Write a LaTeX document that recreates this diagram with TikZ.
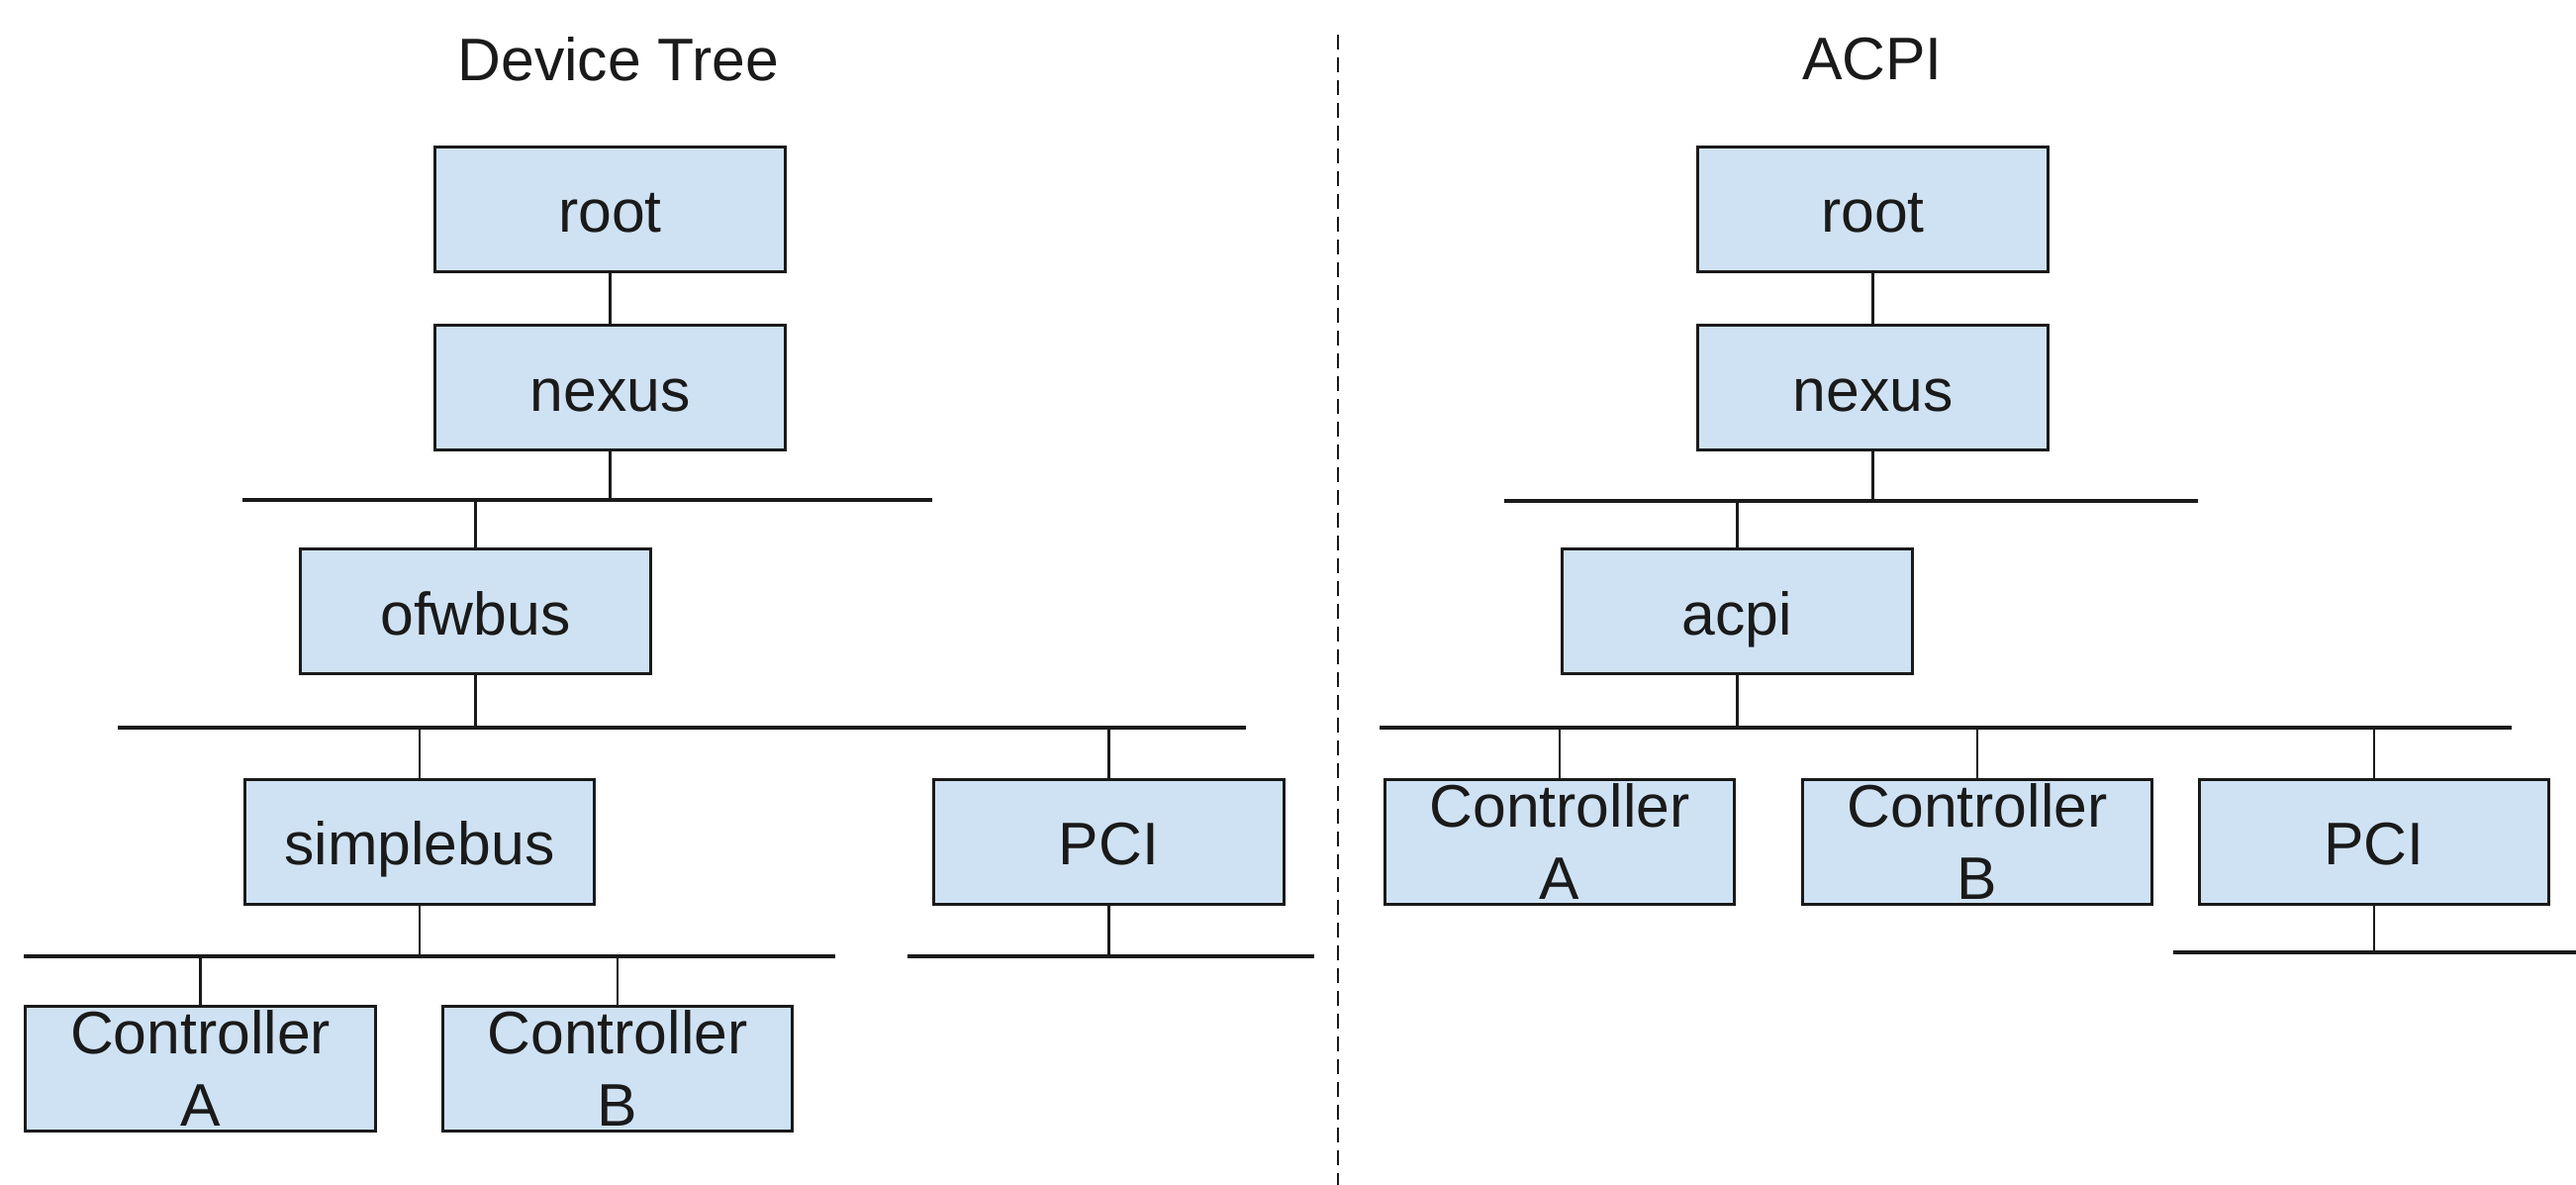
\documentclass[tikz,border=0pt]{standalone}
\usepackage{fontspec}
\setmainfont{Liberation Sans}
\definecolor{boxfill}{HTML}{CFE2F3}
\definecolor{ink}{HTML}{1A1A1A}
\begin{document}
\begin{tikzpicture}[x=0.3pt,y=-0.3pt,
  every node/.style={font=\fontsize{18.2}{22}\selectfont, text=ink},
  box/.style={draw=ink, fill=boxfill, line width=0.9pt, rectangle,
    minimum width=106pt, minimum height=37.8pt, inner sep=0pt},
  onebox/.style={box, text height=14.1pt, text depth=0pt},
  twobox/.style={box, align=center},
  link/.style={draw=ink, line width=0.7pt},
  bus/.style={draw=ink, line width=0.95pt},
  divider/.style={draw=ink, line width=0.8pt, dash pattern=on 4.5pt off 2.4pt}]
\useasboundingbox (0,0) rectangle (2603,1197);
\fill[white] (0,0) rectangle (2603,1197);

% divider
\coordinate (dtop) at (1352,35);
\coordinate (dbot) at (1352,1197);
\draw[divider] (dtop) -- (dbot);

% ---------- Device Tree ----------
\node (ttl) at (625,60) {Device Tree};
\node[onebox] (lroot)  at (616.5,211.5) {root};
\node[onebox] (lnexus) at (616.5,392)   {nexus};
\node[onebox] (lofw)   at (480.5,617.5) {ofwbus};
\node[onebox] (lsimple) at (424,850)    {simplebus};
\node[onebox] (lpci)   at (1120.5,850)  {PCI};
\node[twobox] (lca)    at (202.5,1079)  {Controller\\A};
\node[twobox] (lcb)    at (624,1079)    {Controller\\B};

\coordinate (lb1a) at (245,505);  \coordinate (lb1b) at (942,505);
\coordinate (lb2a) at (119,735);  \coordinate (lb2b) at (1259,735);
\coordinate (lb3a) at (24,966);   \coordinate (lb3b) at (844,966);
\coordinate (lb4a) at (917,966);  \coordinate (lb4b) at (1328,966);
\draw[bus] (lb1a) -- (lb1b);
\draw[bus] (lb2a) -- (lb2b);
\draw[bus] (lb3a) -- (lb3b);
\draw[bus] (lb4a) -- (lb4b);

\draw[link] (lroot.south) -- (lnexus.north);
\draw[link] (lnexus.south) -- (lnexus.south |- lb1a);
\draw[link] (lofw.north) -- (lofw.north |- lb1a);
\draw[link] (lofw.south) -- (lofw.south |- lb2a);
\draw[link] (lsimple.north) -- (lsimple.north |- lb2a);
\draw[link] (lpci.north) -- (lpci.north |- lb2a);
\draw[link] (lsimple.south) -- (lsimple.south |- lb3a);
\draw[link] (lca.north) -- (lca.north |- lb3a);
\draw[link] (lcb.north) -- (lcb.north |- lb3a);
\draw[link] (lpci.south) -- (lpci.south |- lb4a);

% ---------- ACPI ----------
\node (ttr) at (1892,60) {ACPI};
\node[onebox] (rroot)  at (1892.5,211.5) {root};
\node[onebox] (rnexus) at (1892.5,392)   {nexus};
\node[onebox] (racpi)  at (1755.5,617.5) {acpi};
\node[twobox] (rca)    at (1576,850)     {Controller\\A};
\node[twobox] (rcb)    at (1998,850)     {Controller\\B};
\node[onebox] (rpci)   at (2399,850)     {PCI};

\coordinate (rb1a) at (1520,506); \coordinate (rb1b) at (2221,506);
\coordinate (rb2a) at (1394,735); \coordinate (rb2b) at (2538,735);
\coordinate (rb3a) at (2196,962); \coordinate (rb3b) at (2603,962);
\draw[bus] (rb1a) -- (rb1b);
\draw[bus] (rb2a) -- (rb2b);
\draw[bus] (rb3a) -- (rb3b);

\draw[link] (rroot.south) -- (rnexus.north);
\draw[link] (rnexus.south) -- (rnexus.south |- rb1a);
\draw[link] (racpi.north) -- (racpi.north |- rb1a);
\draw[link] (racpi.south) -- (racpi.south |- rb2a);
\draw[link] (rca.north) -- (rca.north |- rb2a);
\draw[link] (rcb.north) -- (rcb.north |- rb2a);
\draw[link] (rpci.north) -- (rpci.north |- rb2a);
\draw[link] (rpci.south) -- (rpci.south |- rb3a);
\end{tikzpicture}
\end{document}
